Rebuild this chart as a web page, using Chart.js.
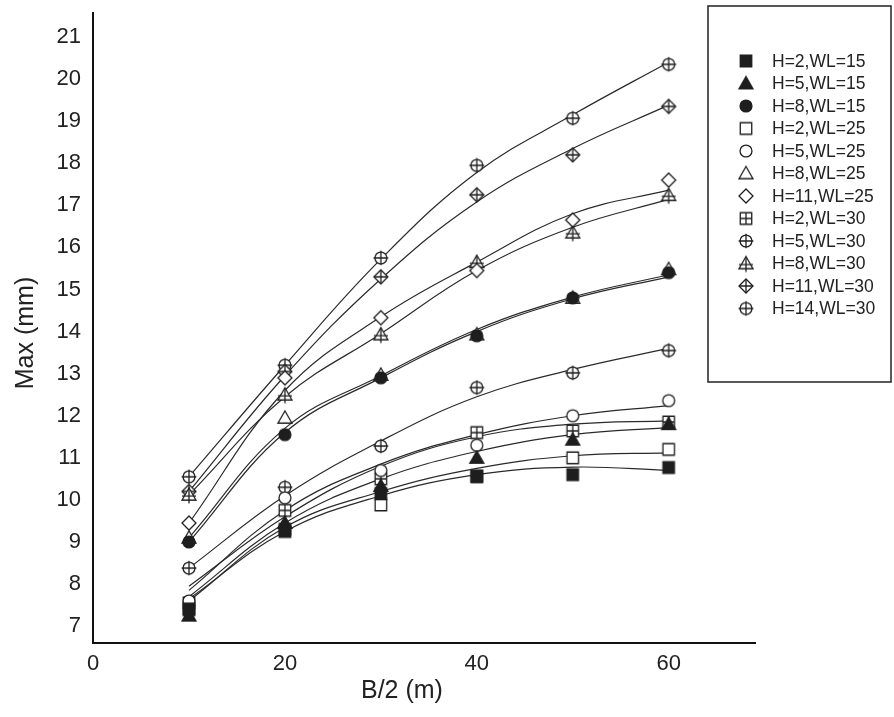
<!DOCTYPE html>
<html>
<head>
<meta charset="utf-8">
<script src="https://cdn.jsdelivr.net/npm/chart.js@4.4.0/dist/chart.umd.min.js"></script>
<style>
  html, body { margin: 0; padding: 0; background: #fff; }
  #wrap { width: 894px; height: 717px; }
</style>
</head>
<body>
<div id="wrap"><canvas id="c" width="894" height="717"></canvas></div>
<script>
// ---- Data ----
const xVals = [10, 20, 30, 40, 50, 60];
const xTicks = [0, 20, 40, 60];
const yTicks = [7, 8, 9, 10, 11, 12, 13, 14, 15, 16, 17, 18, 19, 20, 21];

const seriesLabels = [
  'H=2,WL=15', 'H=5,WL=15', 'H=8,WL=15',
  'H=2,WL=25', 'H=5,WL=25', 'H=8,WL=25', 'H=11,WL=25',
  'H=2,WL=30', 'H=5,WL=30', 'H=8,WL=30', 'H=11,WL=30', 'H=14,WL=30'
];
// measured points
const h2wl15  = [7.40, 9.25, 10.15, 10.55, 10.60, 10.77];
const h5wl15  = [7.25, 9.45, 10.33, 11.00, 11.43, 11.80];
const h8wl15  = [9.00, 11.55, 12.90, 13.90, 14.80, 15.40];
const h2wl25  = [7.40, 9.30, 9.88, 10.57, 11.00, 11.20];
const h5wl25  = [7.60, 10.05, 10.70, 11.30, 12.00, 12.36];
const h8wl25  = [9.10, 11.95, 12.97, 13.93, 14.80, 15.48];
const h11wl25 = [9.45, 12.90, 14.33, 15.45, 16.65, 17.60];
const h2wl30  = [7.55, 9.75, 10.50, 11.60, 11.64, 11.85];
const h5wl30  = [8.38, 10.30, 11.28, 12.67, 13.02, 13.55];
const h8wl30  = [10.12, 12.50, 13.93, 15.65, 16.35, 17.24];
const h11wl30 = [10.20, 13.05, 15.30, 17.25, 18.20, 19.35];
const h14wl30 = [10.55, 13.20, 15.75, 17.95, 19.07, 20.35];

// trend curves (value of each drawn curve at the same x)
const fitH2wl15  = [7.65, 9.25, 10.10, 10.60, 10.78, 10.70];
const fitH5wl15  = [7.70, 9.45, 10.50, 11.15, 11.55, 11.72];
const fitH8wl15  = [9.00, 11.60, 12.90, 14.00, 14.78, 15.30];
const fitH2wl25  = [7.60, 9.35, 10.20, 10.75, 11.05, 11.12];
const fitH5wl25  = [7.85, 9.75, 10.85, 11.55, 12.00, 12.24];
const fitH8wl25  = [9.10, 11.70, 12.95, 14.05, 14.82, 15.35];
const fitH11wl25 = [9.45, 12.60, 14.35, 15.65, 16.80, 17.36];
const fitH2wl30  = [7.95, 9.60, 10.80, 11.50, 11.80, 11.88];
const fitH5wl30  = [8.38, 10.10, 11.40, 12.45, 13.10, 13.60];
const fitH8wl30  = [10.12, 12.45, 13.95, 15.45, 16.48, 17.14];
const fitH11wl30 = [10.20, 12.95, 15.25, 17.08, 18.35, 19.38];
const fitH14wl30 = [10.55, 13.20, 15.72, 17.78, 19.15, 20.40];

const seriesValues = [h2wl15, h5wl15, h8wl15, h2wl25, h5wl25, h8wl25, h11wl25,
                      h2wl30, h5wl30, h8wl30, h11wl30, h14wl30];
const fitValues = [fitH2wl15, fitH5wl15, fitH8wl15, fitH2wl25, fitH5wl25, fitH8wl25, fitH11wl25,
                   fitH2wl30, fitH5wl30, fitH8wl30, fitH11wl30, fitH14wl30];
const seriesMarkers = ['sqF', 'triF', 'cirF', 'sq', 'cir', 'tri', 'dia',
                       'sqPlus', 'cirPlus', 'triPlus', 'diaPlus', 'cirPlus'];

// ---- Marker images ----
const INK = '#1e1e1e';
function makeMarker(kind, r) {
  const pad = 3;
  const s = Math.ceil(2 * r + 2 * pad);
  const cv = document.createElement('canvas');
  cv.width = s; cv.height = s;
  const g = cv.getContext('2d');
  const c = s / 2;
  g.lineWidth = 1.3;
  g.strokeStyle = INK;
  const filled = kind.endsWith('F');
  g.fillStyle = filled ? INK : '#fff';
  const base = kind.replace('F', '').replace('Plus', '');
  const plus = kind.indexOf('Plus') >= 0;
  g.beginPath();
  if (base === 'sq') {
    const h = r * 0.82;
    g.rect(c - h, c - h, 2 * h, 2 * h);
  } else if (base === 'cir') {
    g.arc(c, c, r * 0.85, 0, Math.PI * 2);
  } else if (base === 'tri') {
    g.moveTo(c, c - r);
    g.lineTo(c + r, c + r * 0.75);
    g.lineTo(c - r, c + r * 0.75);
    g.closePath();
  } else if (base === 'dia') {
    g.moveTo(c, c - r);
    g.lineTo(c + r, c);
    g.lineTo(c, c + r);
    g.lineTo(c - r, c);
    g.closePath();
  }
  g.fill();
  g.stroke();
  if (plus) {
    g.beginPath();
    if (base === 'sq') {
      const h = r * 0.82;
      g.moveTo(c - h, c); g.lineTo(c + h, c);
      g.moveTo(c, c - h); g.lineTo(c, c + h);
    } else if (base === 'cir') {
      const e = r * 1.05;
      g.moveTo(c - e, c); g.lineTo(c + e, c);
      g.moveTo(c, c - e); g.lineTo(c, c + e);
    } else if (base === 'tri') {
      g.moveTo(c - r * 1.0, c + r * 0.15); g.lineTo(c + r * 1.0, c + r * 0.15);
      g.moveTo(c, c - r); g.lineTo(c, c + r * 1.2);
    } else if (base === 'dia') {
      g.moveTo(c - r, c); g.lineTo(c + r, c);
      g.moveTo(c, c - r); g.lineTo(c, c + r);
    }
    g.stroke();
  }
  return cv;
}

const plotMarkers = seriesMarkers.map(k => makeMarker(k, 7));
const legendMarkers = seriesMarkers.map(k => makeMarker(k, 7));

// marker datasets first (drawn on top), curve datasets after
const markerSets = seriesLabels.map((lab, i) => ({
  label: lab,
  data: xVals.map((x, j) => ({ x: x, y: seriesValues[i][j] })),
  showLine: false,
  pointStyle: plotMarkers[i],
  pointRadius: 7,
  pointHoverRadius: 7,
  backgroundColor: '#fff',
  borderColor: INK
}));
const curveSets = seriesLabels.map((lab, i) => ({
  label: lab + ' fit',
  data: xVals.map((x, j) => ({ x: x, y: fitValues[i][j] })),
  showLine: true,
  borderColor: '#2a2a2a',
  borderWidth: 1.2,
  tension: 0.4,
  pointRadius: 0,
  pointHoverRadius: 0
}));

// ---- Plugins ----
const FONT = '"Liberation Sans", Arial, sans-serif';

const frameLegend = {
  id: 'frameLegend',
  afterDraw(chart) {
    const ctx = chart.ctx;
    ctx.save();
    const bx = 708, by = 6, bw = 183, bh = 376;
    ctx.fillStyle = '#fff';
    ctx.fillRect(bx, by, bw, bh);
    ctx.lineWidth = 1.5;
    ctx.strokeStyle = '#222';
    ctx.strokeRect(bx, by, bw, bh);
    ctx.font = '17.5px ' + FONT;
    ctx.fillStyle = '#222';
    ctx.textBaseline = 'middle';
    ctx.textAlign = 'left';
    seriesLabels.forEach((lab, i) => {
      const y = 61 + i * 22.5;
      const m = legendMarkers[i];
      ctx.drawImage(m, 746 - m.width / 2, y - m.height / 2);
      ctx.fillText(lab, 772, y + 1);
    });
    const ca = chart.chartArea;
    ctx.font = '25px ' + FONT;
    ctx.fillStyle = '#222';
    ctx.textAlign = 'center';
    ctx.textBaseline = 'middle';
    ctx.fillText('B/2 (m)', chart.scales.x.getPixelForValue(32.2), 691);
    ctx.translate(26, (ca.top + ca.bottom) / 2 + 5);
    ctx.rotate(-Math.PI / 2);
    ctx.fillText('Max (mm)', 0, 0);
    ctx.restore();
  }
};

new Chart(document.getElementById('c'), {
  type: 'scatter',
  data: { datasets: markerSets.concat(curveSets) },
  options: {
    responsive: false,
    animation: false,
    layout: { padding: { top: 13, right: 139, left: 0, bottom: 0 } },
    plugins: {
      legend: { display: false },
      tooltip: { enabled: false }
    },
    scales: {
      x: {
        type: 'linear',
        min: 0,
        max: 69,
        afterBuildTicks: s => { s.ticks = xTicks.map(v => ({ value: v })); },
        afterFit: s => { s.height = 74; s.paddingLeft = 0; s.paddingRight = 0; },
        grid: { display: false, drawTicks: false },
        border: { display: true, color: '#111', width: 2 },
        ticks: { font: { size: 22, family: FONT }, color: '#222', padding: 8, maxRotation: 0 }
      },
      y: {
        type: 'linear',
        min: 6.6,
        max: 21.57,
        afterBuildTicks: s => { s.ticks = yTicks.map(v => ({ value: v })); },
        afterFit: s => { s.width = 93; s.paddingTop = 0; s.paddingBottom = 0; },
        grid: { display: false, drawTicks: false },
        border: { display: true, color: '#111', width: 2 },
        ticks: { font: { size: 22, family: FONT }, color: '#222', padding: 12 }
      }
    }
  },
  plugins: [frameLegend]
});
</script>
</body>
</html>
